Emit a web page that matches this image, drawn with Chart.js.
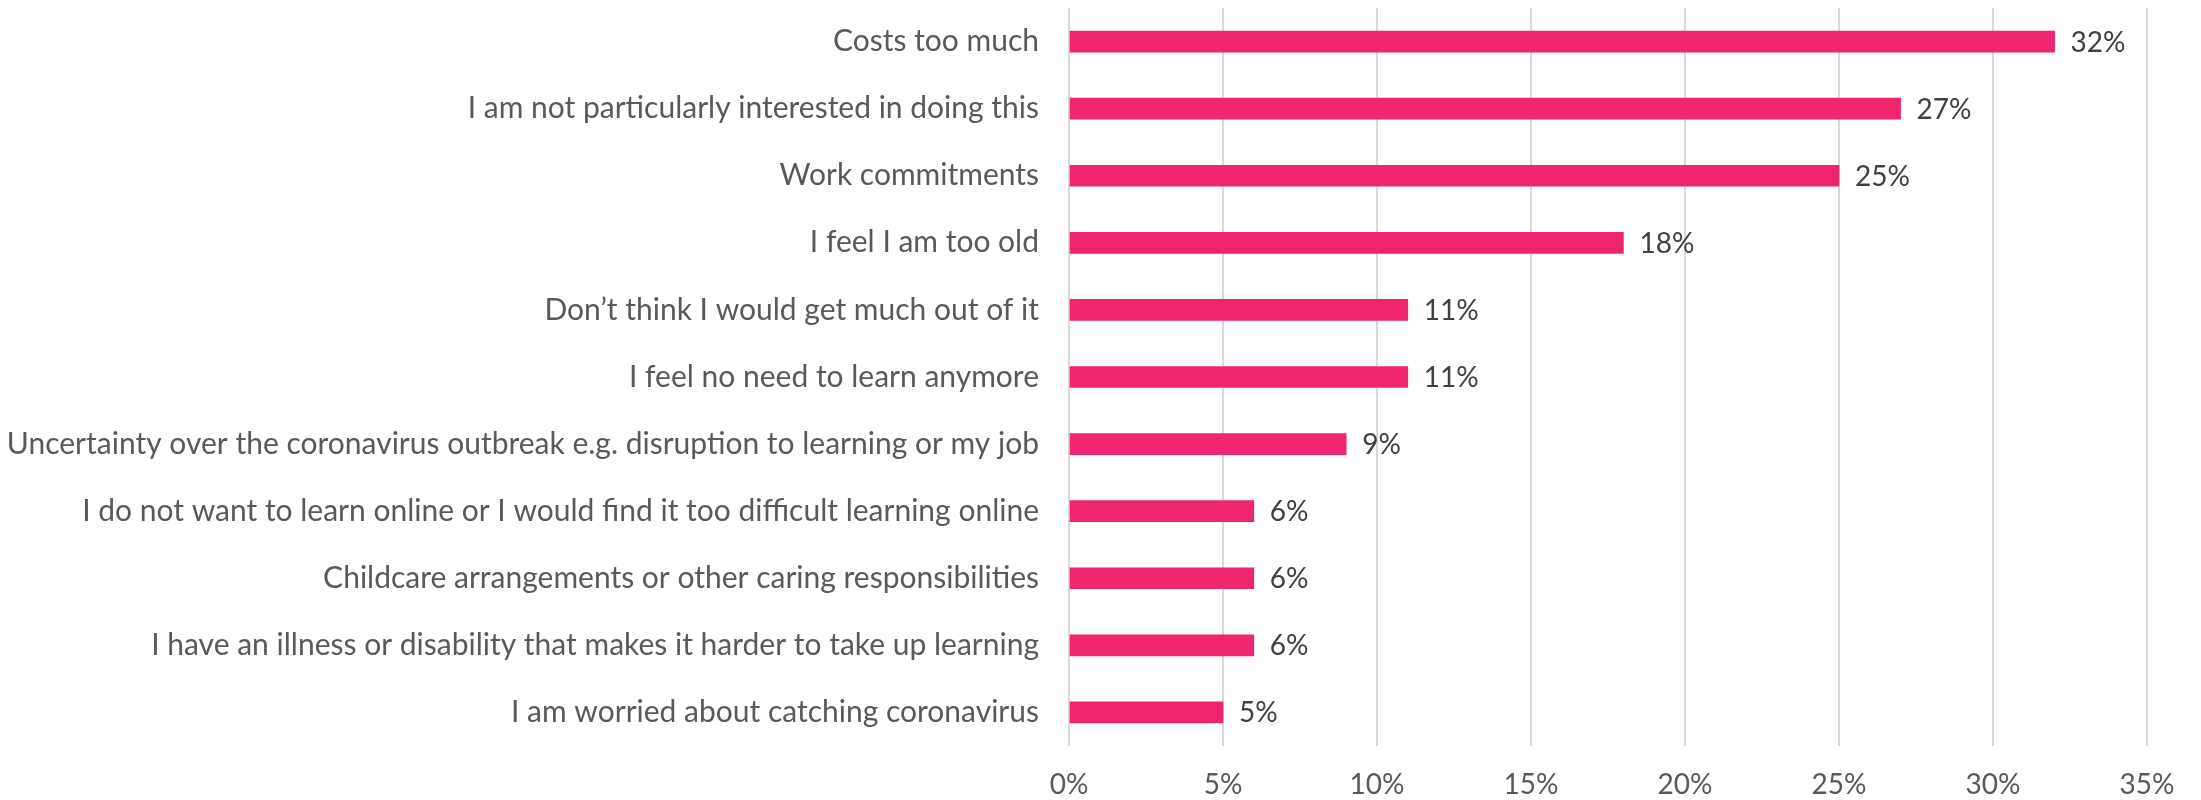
<!DOCTYPE html>
<html>
<head>
<meta charset="utf-8">
<script src="https://cdn.jsdelivr.net/npm/chart.js@4.4.1/dist/chart.umd.min.js"></script>
<style>
  html, body { margin: 0; padding: 0; background: #ffffff; }
  #wrap { width: 2201px; height: 800px; position: relative; }
</style>
</head>
<body>
<div id="wrap"><canvas id="c" width="2201" height="800"></canvas></div>
<script>
const categories = [
  "Costs too much",
  "I am not particularly interested in doing this",
  "Work commitments",
  "I feel I am too old",
  "Don\u2019t think I would get much out of it",
  "I feel no need to learn anymore",
  "Uncertainty over the coronavirus outbreak e.g. disruption to learning or my job",
  "I do not want to learn online or I would find it too difficult learning online",
  "Childcare arrangements or other caring responsibilities",
  "I have an illness or disability that makes it harder to take up learning",
  "I am worried about catching coronavirus"
];
const values = [32, 27, 25, 18, 11, 11, 9, 6, 6, 6, 5];
const xTicks = [0, 5, 10, 15, 20, 25, 30, 35];

const FONT = "Lato, 'Open Sans', sans-serif";

const valueLabels = {
  id: 'valueLabels',
  afterDatasetsDraw(chart) {
    const ctx = chart.ctx;
    const meta = chart.getDatasetMeta(0);
    ctx.save();
    ctx.font = "28px " + FONT;
    ctx.fillStyle = "#404040";
    ctx.textAlign = "left";
    ctx.textBaseline = "middle";
    meta.data.forEach((bar, i) => {
      ctx.fillText(values[i] + "%", bar.x + 16, bar.y + 1);
    });
    ctx.restore();
  }
};

new Chart(document.getElementById('c'), {
  type: 'bar',
  data: {
    labels: categories,
    datasets: [{
      data: values,
      backgroundColor: '#EE2670',
      borderWidth: 0,
      barThickness: 21
    }]
  },
  options: {
    indexAxis: 'y',
    responsive: false,
    animation: false,
    devicePixelRatio: 1,
    layout: { padding: { top: 8, right: 54, bottom: 0, left: 0 } },
    plugins: { legend: { display: false }, tooltip: { enabled: false } },
    scales: {
      x: {
        min: 0, max: 35,
        afterBuildTicks(scale) { scale.ticks = xTicks.map(v => ({ value: v })); },
        grid: { color: '#D9D9D9', lineWidth: 2, drawTicks: false },
        border: { display: false },
        ticks: {
          padding: 22,
          color: '#595959',
          font: { family: FONT, size: 28 },
          callback: (v) => v + '%'
        },
        afterFit(scale) { scale.height = 54; scale.paddingLeft = 0; }
      },
      y: {
        grid: { display: false },
        border: { display: false },
        ticks: {
          padding: 22,
          color: '#595959',
          font: { family: FONT, size: 30 },
          autoSkip: false
        },
        afterFit(scale) { scale.width = 1069; scale.paddingTop = 0; scale.paddingBottom = 0; }
      }
    }
  },
  plugins: [valueLabels]
});
</script>
</body>
</html>
